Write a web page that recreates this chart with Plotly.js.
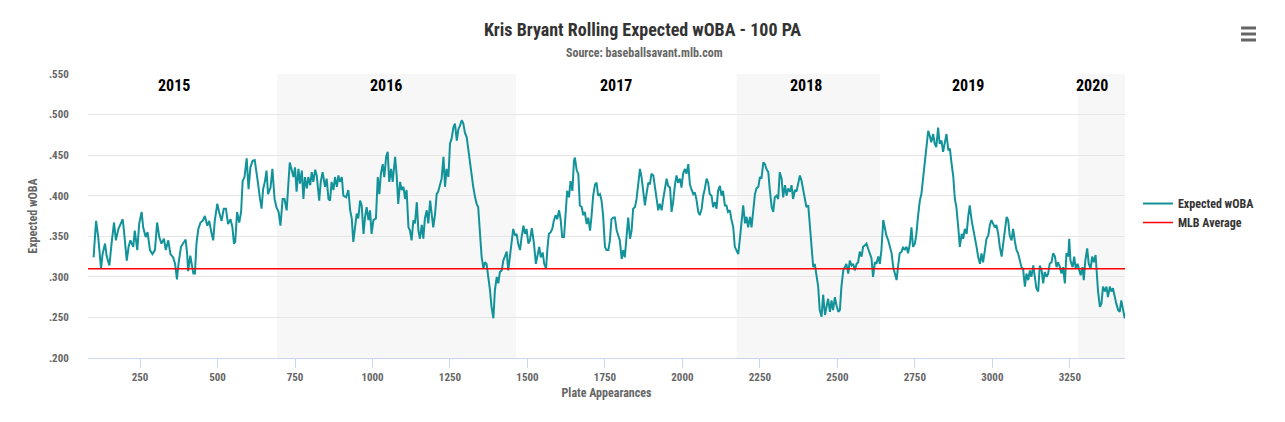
<!DOCTYPE html>
<html>
<head>
<meta charset="utf-8">
<script src="https://cdn.plot.ly/plotly-3.0.1.min.js"></script>
<style>
  html, body { margin: 0; padding: 0; background: #fff; }
  #graph { width: 1285px; height: 422px; }
</style>
</head>
<body>
<div id="graph"></div>
<script>
// Rolling 100 PA expected wOBA.

const plateAppearances = [
  100, 104, 108, 115, 121, 124, 129, 137, 142, 151, 158, 166, 172, 180, 187, 194, 199, 207, 213, 219,
  228, 233, 241, 247, 255, 260, 268, 274, 282, 290, 298, 305, 312, 319, 327, 333, 341, 348, 357, 363,
  369, 374, 382, 389, 397, 402, 405, 412, 417, 422, 427, 432, 438, 445, 452, 459, 467, 473, 481, 486,
  491, 499, 505, 513, 520, 527, 534, 542, 548, 553, 557, 563, 570, 576, 581, 587, 594, 600, 606, 613,
  620, 626, 631, 637, 642, 647, 653, 658, 663, 671, 677, 684, 690, 697, 703, 710, 716, 723, 728, 733,
  745, 750, 755, 761, 766, 772, 777, 782, 788, 793, 799, 804, 809, 815, 820, 828, 833, 839, 847, 852,
  858, 863, 868, 874, 879, 885, 890, 895, 901, 906, 915, 922, 928, 933, 938, 944, 949, 954, 960, 965,
  971, 976, 981, 987, 992, 997, 1003, 1011, 1017, 1022, 1027, 1033, 1038, 1044, 1049, 1054, 1060, 1065, 1073, 1078,
  1083, 1089, 1094, 1100, 1105, 1110, 1116, 1121, 1126, 1132, 1137, 1143, 1148, 1153, 1159, 1164, 1169, 1175, 1180, 1186,
  1191, 1196, 1202, 1207, 1212, 1218, 1223, 1229, 1234, 1239, 1245, 1250, 1255, 1261, 1266, 1272, 1277, 1282, 1288, 1293,
  1298, 1304, 1309, 1315, 1320, 1325, 1331, 1336, 1341, 1347, 1352, 1358, 1363, 1368, 1374, 1379, 1384, 1390, 1395, 1401,
  1406, 1411, 1417, 1422, 1427, 1433, 1438, 1444, 1449, 1454, 1460, 1465, 1470, 1476,
  1481, 1487, 1492, 1497, 1503, 1508, 1514, 1521, 1527, 1533, 1538, 1543, 1549, 1554, 1560, 1564, 1569, 1575, 1580, 1585,
  1591, 1596, 1602, 1607, 1612, 1618, 1623, 1628, 1634, 1639, 1645, 1650, 1653, 1659, 1664, 1669, 1675, 1680, 1685, 1691,
  1696, 1702, 1707, 1712, 1718, 1723, 1728, 1734, 1739, 1744, 1750, 1755, 1761, 1766, 1771, 1777, 1782, 1788, 1793, 1798,
  1804, 1809, 1814, 1820, 1825, 1831, 1836, 1841, 1847, 1852, 1857, 1863, 1868, 1874, 1879, 1884, 1890, 1895, 1900, 1906,
  1911, 1917, 1922, 1927, 1933, 1938, 1943, 1949, 1954, 1960, 1965, 1970, 1976, 1981, 1986, 1992, 1997, 2002, 2008, 2013,
  2019, 2024, 2029, 2035, 2040, 2045, 2051, 2056, 2062, 2067, 2072, 2078, 2083, 2088, 2094, 2099, 2105, 2110, 2115, 2121,
  2126, 2131, 2137, 2142, 2147, 2153, 2158, 2164, 2169, 2174, 2180,
  2186, 2191, 2196, 2202, 2207, 2212, 2218, 2223, 2229, 2234, 2239, 2245, 2250, 2255, 2261, 2266, 2271, 2277, 2282, 2288,
  2293, 2298, 2304, 2309, 2314, 2320, 2325, 2331, 2336, 2341, 2347, 2352, 2357, 2363, 2368, 2374, 2379, 2384, 2390, 2395,
  2400, 2406, 2411, 2417, 2422, 2427, 2433, 2438, 2443, 2449, 2454, 2460, 2465, 2470, 2476, 2481, 2486, 2492, 2497, 2503,
  2508, 2513, 2519, 2524, 2529, 2535, 2540, 2546, 2551, 2556, 2562, 2567, 2572, 2578, 2583, 2589, 2594, 2599, 2605, 2610,
  2615, 2621, 2626, 2632, 2637, 2642, 2648, 2653, 2658, 2664, 2669, 2675, 2680, 2685, 2691, 2696, 2701, 2707, 2712, 2717,
  2723, 2728, 2734, 2739, 2744, 2750, 2755, 2760, 2766, 2771, 2777, 2782, 2787, 2793, 2798, 2803, 2809, 2814, 2819, 2825,
  2830,
  2836, 2841, 2847, 2852, 2858, 2863, 2868, 2874, 2879, 2884, 2890, 2895, 2901, 2906, 2911, 2917, 2922, 2927, 2933, 2938,
  2944, 2949, 2954, 2960, 2965, 2970, 2976, 2981, 2987, 2992, 2997, 3003, 3008, 3013, 3019, 3024, 3030, 3035, 3040, 3046,
  3051, 3056, 3062, 3067, 3073, 3078, 3083, 3089, 3094, 3099, 3105, 3110, 3116, 3121, 3126, 3132, 3137, 3142, 3148, 3153,
  3159, 3164, 3169, 3175, 3180, 3185, 3191, 3196, 3202, 3207, 3212, 3218, 3223, 3228, 3234, 3239, 3245, 3248, 3252, 3259,
  3264, 3269, 3275, 3280, 3285, 3291, 3295, 3300, 3306, 3311, 3317, 3322, 3327, 3333, 3336, 3341, 3347, 3352, 3357, 3363,
  3368, 3373, 3379, 3384, 3389, 3395, 3400, 3406, 3411, 3416, 3422, 3427, 3430,
];

const expectedWoba = [
  0.324, 0.353, 0.369, 0.349, 0.324, 0.310, 0.328, 0.341, 0.326, 0.314, 0.341, 0.367, 0.345, 0.359, 0.365, 0.371, 0.353, 0.320, 0.337, 0.345,
  0.337, 0.357, 0.333, 0.365, 0.380, 0.361, 0.349, 0.355, 0.333, 0.328, 0.333, 0.367, 0.349, 0.341, 0.347, 0.333, 0.345, 0.328, 0.324, 0.316,
  0.297, 0.316, 0.337, 0.341, 0.346, 0.328, 0.307, 0.326, 0.316, 0.304, 0.304, 0.341, 0.359, 0.367, 0.369, 0.375, 0.363, 0.369, 0.353, 0.345,
  0.369, 0.390, 0.380, 0.369, 0.384, 0.384, 0.365, 0.371, 0.361, 0.341, 0.343, 0.380, 0.367, 0.380, 0.418, 0.423, 0.446, 0.408, 0.435, 0.443,
  0.444, 0.423, 0.414, 0.396, 0.384, 0.408, 0.418, 0.431, 0.402, 0.410, 0.433, 0.396, 0.386, 0.380, 0.363, 0.396, 0.396, 0.382, 0.420, 0.441,
  0.423, 0.435, 0.405, 0.433, 0.415, 0.431, 0.396, 0.423, 0.409, 0.423, 0.413, 0.429, 0.417, 0.432, 0.425, 0.394, 0.417, 0.429, 0.411, 0.421,
  0.396, 0.394, 0.417, 0.407, 0.423, 0.411, 0.425, 0.417, 0.423, 0.400, 0.398, 0.407, 0.382, 0.372, 0.343, 0.361, 0.378, 0.372, 0.394, 0.388,
  0.353, 0.374, 0.386, 0.370, 0.382, 0.353, 0.370, 0.372, 0.423, 0.402, 0.427, 0.439, 0.423, 0.448, 0.454, 0.417, 0.433, 0.417, 0.448, 0.425,
  0.390, 0.417, 0.407, 0.411, 0.396, 0.407, 0.361, 0.357, 0.345, 0.370, 0.366, 0.392, 0.357, 0.347, 0.364, 0.347, 0.372, 0.382, 0.366, 0.394,
  0.374, 0.361, 0.378, 0.402, 0.405, 0.415, 0.421, 0.448, 0.411, 0.433, 0.423, 0.464, 0.470, 0.484, 0.489, 0.468, 0.482, 0.486, 0.493, 0.489,
  0.478, 0.472, 0.456, 0.439, 0.423, 0.411, 0.398, 0.390, 0.386, 0.353, 0.325, 0.310, 0.318, 0.316, 0.300, 0.284, 0.263, 0.249, 0.284, 0.300,
  0.292, 0.306, 0.308, 0.320, 0.325, 0.331, 0.308, 0.325, 0.341, 0.359, 0.351, 0.353, 0.341, 0.333,
  0.349, 0.363, 0.353, 0.359, 0.341, 0.345, 0.360, 0.341, 0.316, 0.328, 0.337, 0.324, 0.330, 0.316, 0.310, 0.333, 0.353, 0.355, 0.359, 0.369,
  0.376, 0.371, 0.382, 0.371, 0.349, 0.349, 0.376, 0.406, 0.398, 0.418, 0.406, 0.443, 0.447, 0.431, 0.427, 0.388, 0.386, 0.376, 0.380, 0.365,
  0.373, 0.357, 0.376, 0.400, 0.414, 0.416, 0.400, 0.402, 0.394, 0.376, 0.337, 0.333, 0.333, 0.345, 0.371, 0.373, 0.373, 0.357, 0.351, 0.345,
  0.322, 0.333, 0.324, 0.353, 0.373, 0.347, 0.357, 0.384, 0.386, 0.396, 0.414, 0.433, 0.423, 0.400, 0.388, 0.402, 0.416, 0.414, 0.427, 0.425,
  0.410, 0.396, 0.382, 0.390, 0.382, 0.396, 0.406, 0.421, 0.412, 0.410, 0.380, 0.392, 0.414, 0.425, 0.416, 0.421, 0.410, 0.427, 0.433, 0.427,
  0.439, 0.414, 0.408, 0.402, 0.404, 0.396, 0.380, 0.376, 0.384, 0.400, 0.408, 0.421, 0.416, 0.402, 0.400, 0.386, 0.392, 0.384, 0.406, 0.412,
  0.400, 0.406, 0.388, 0.388, 0.380, 0.382, 0.371, 0.361, 0.337, 0.333, 0.328,
  0.349, 0.370, 0.388, 0.366, 0.374, 0.361, 0.374, 0.361, 0.386, 0.402, 0.409, 0.411, 0.423, 0.421, 0.441, 0.439, 0.433, 0.429, 0.407, 0.386,
  0.380, 0.398, 0.400, 0.396, 0.429, 0.421, 0.398, 0.413, 0.400, 0.409, 0.405, 0.413, 0.396, 0.407, 0.405, 0.415, 0.425, 0.419, 0.405, 0.398,
  0.386, 0.388, 0.361, 0.333, 0.312, 0.316, 0.302, 0.288, 0.259, 0.251, 0.278, 0.253, 0.263, 0.273, 0.257, 0.271, 0.259, 0.275, 0.265, 0.257,
  0.259, 0.288, 0.308, 0.312, 0.316, 0.304, 0.320, 0.314, 0.316, 0.308, 0.316, 0.318, 0.331, 0.325, 0.337, 0.339, 0.341, 0.335, 0.327, 0.323,
  0.300, 0.318, 0.316, 0.325, 0.316, 0.333, 0.370, 0.361, 0.351, 0.345, 0.339, 0.329, 0.312, 0.304, 0.296, 0.314, 0.329, 0.331, 0.337, 0.333,
  0.337, 0.329, 0.341, 0.361, 0.337, 0.341, 0.353, 0.374, 0.394, 0.402, 0.423, 0.439, 0.464, 0.480, 0.474, 0.466, 0.476, 0.464, 0.460, 0.484,
  0.464,
  0.468, 0.454, 0.466, 0.476, 0.456, 0.458, 0.441, 0.423, 0.396, 0.386, 0.361, 0.337, 0.353, 0.347, 0.359, 0.353, 0.374, 0.388, 0.370, 0.361,
  0.349, 0.337, 0.325, 0.316, 0.329, 0.318, 0.333, 0.347, 0.351, 0.364, 0.370, 0.366, 0.361, 0.364, 0.353, 0.337, 0.325, 0.341, 0.357, 0.374,
  0.370, 0.351, 0.345, 0.359, 0.343, 0.333, 0.329, 0.318, 0.312, 0.310, 0.288, 0.304, 0.296, 0.308, 0.300, 0.314, 0.296, 0.286, 0.282, 0.314,
  0.308, 0.292, 0.306, 0.300, 0.304, 0.316, 0.318, 0.329, 0.325, 0.312, 0.318, 0.312, 0.304, 0.312, 0.292, 0.329, 0.325, 0.347, 0.320, 0.312,
  0.325, 0.310, 0.316, 0.308, 0.302, 0.312, 0.296, 0.320, 0.335, 0.316, 0.310, 0.325, 0.318, 0.327, 0.308, 0.282, 0.263, 0.267, 0.288, 0.282,
  0.288, 0.275, 0.288, 0.282, 0.286, 0.273, 0.267, 0.259, 0.257, 0.271, 0.259, 0.249, 0.255,
];

const mlbAverage = 0.310;

// seasons: shaded bands alternate, label sits near the middle
const seasonLabels = ["2015", "2016", "2017", "2018", "2019", "2020"];
const seasonLabelPa = [360, 1044, 1786, 2398, 2921, 3321];
const shadedSeasonStart = [692, 2175, 3276];
const shadedSeasonEnd = [1463, 2637, 3428];

const paRange = [82, 3428];
const yTickValues = [0.2, 0.25, 0.3, 0.35, 0.4, 0.45, 0.5, 0.55];
const yTickLabels = [".200", ".250", ".300", ".350", ".400", ".450", ".500", ".550"];

const FONT = "'Roboto Condensed', 'Liberation Sans Narrow', 'DejaVu Sans Condensed', Roboto, sans-serif";

function buildChart() {
  const xwobaTrace = {
    x: plateAppearances,
    y: expectedWoba,
    name: "Expected wOBA",
    type: "scatter",
    mode: "lines",
    line: { color: "#12939a", width: 2 },
  };

  const mlbTrace = {
    x: paRange,
    y: [mlbAverage, mlbAverage],
    name: "MLB Average",
    type: "scatter",
    mode: "lines",
    line: { color: "#ff0000", width: 1.5 },
  };

  const bands = shadedSeasonStart.map((start, i) => ({
    type: "rect",
    xref: "x",
    yref: "paper",
    x0: start,
    x1: shadedSeasonEnd[i],
    y0: 0,
    y1: 1,
    fillcolor: "#f7f7f7",
    line: { width: 0 },
    layer: "below",
  }));

  // export menu icon in the corner
  const menuIcon = [1.162, 1.1408, 1.1197].map((y) => ({
    type: "line",
    xref: "paper",
    yref: "paper",
    x0: 1.1119,
    x1: 1.1263,
    y0: y,
    y1: y,
    line: { color: "#666666", width: 3 },
  }));

  const yearLabels = seasonLabels.map((label, i) => ({
    text: label,
    x: seasonLabelPa[i],
    xref: "x",
    y: 1,
    yref: "paper",
    yanchor: "top",
    showarrow: false,
    font: { family: FONT, size: 16, color: "#000000", weight: "bold" },
  }));

  const subtitle = {
    text: "Source: baseballsavant.mlb.com",
    xref: "paper",
    x: 0.5367,
    y: 1.074,
    yref: "paper",
    yanchor: "middle",
    showarrow: false,
    font: { family: FONT, size: 12, color: "#666666", weight: "bold" },
  };

  const layout = {
    width: 1285,
    height: 422,
    paper_bgcolor: "#ffffff",
    plot_bgcolor: "#ffffff",
    font: { family: FONT, color: "#666666" },
    title: {
      text: "Kris Bryant Rolling Expected wOBA - 100 PA",
      x: 0.5,
      xref: "container",
      y: 0.929,
      yanchor: "middle",
      font: { family: FONT, size: 18, color: "#333333", weight: "bold" },
    },
    margin: { l: 88, r: 160, t: 74, b: 64 },
    showlegend: true,
    legend: {
      x: 1.0125,
      y: 0.595,
      xanchor: "left",
      yanchor: "top",
      font: { family: FONT, size: 12, color: "#333333", weight: "bold" },
      itemwidth: 30,
    },
    xaxis: {
      range: paRange,
      tick0: 0,
      dtick: 250,
      showgrid: false,
      zeroline: false,
      showline: true,
      linecolor: "#ccd6eb",
      linewidth: 1,
      ticks: "outside",
      ticklen: 9,
      tickcolor: "#ccd6eb",
      tickfont: { family: FONT, size: 11, color: "#666666", weight: "bold" },
      title: {
        text: "Plate Appearances",
        standoff: 5,
        font: { family: FONT, size: 12, color: "#666666", weight: "bold" },
      },
    },
    yaxis: {
      range: [0.2, 0.55],
      tickvals: yTickValues,
      ticktext: yTickLabels,
      showgrid: true,
      gridcolor: "#e6e6e6",
      zeroline: false,
      ticks: "outside",
      ticklen: 16,
      tickcolor: "rgba(0,0,0,0)",
      tickfont: { family: FONT, size: 11, color: "#666666", weight: "bold" },
      title: {
        text: "Expected wOBA",
        standoff: 8,
        font: { family: FONT, size: 12, color: "#666666", weight: "bold" },
      },
    },
    shapes: bands.concat(menuIcon),
    annotations: yearLabels.concat([subtitle]),
  };

  Plotly.newPlot("graph", [xwobaTrace, mlbTrace], layout, { displayModeBar: false });
}

buildChart();
</script>
</body>
</html>
